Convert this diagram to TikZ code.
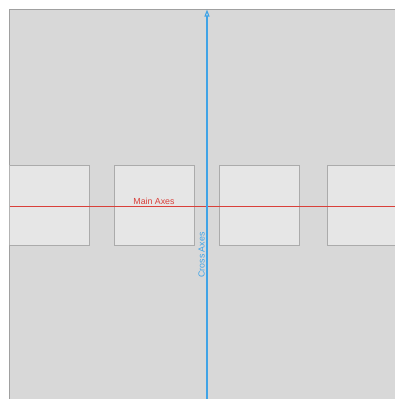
\documentclass[tikz,border=0pt]{standalone}
\usepackage{fontspec}
\setmainfont{Liberation Sans}
\usetikzlibrary{arrows.meta}
\definecolor{bgray}{HTML}{D8D8D8}
\definecolor{bframe}{HTML}{A0A0A0}
\definecolor{boxfill}{HTML}{E6E6E6}
\definecolor{boxline}{HTML}{ABABAB}
\definecolor{mainred}{HTML}{D9403A}
\definecolor{crossblue}{HTML}{3FA3E6}
\tikzset{
  item/.style={draw=boxline, fill=boxfill, line width=0.8pt, minimum width=80pt, minimum height=80pt, inner sep=0pt, anchor=north west},
  lbl/.style={font=\fontsize{8.8}{10}\selectfont, inner sep=0pt},
}
\begin{document}
\begin{tikzpicture}[x=1pt,y=-1pt]
\useasboundingbox (0,0) rectangle (395,399);
\fill[white] (0,0) rectangle (395,399);
\fill[bgray] (9,9) rectangle (395,399);
\draw[bframe, line width=1pt] (9,399) -- (9,9) -- (395,9);
\begin{scope}
\clip (9.5,9.5) rectangle (395,399);
\node[item] (b1) at (9,165) {};
\node[item] (b2) at (114,165) {};
\node[item] (b3) at (219,165) {};
\node[item] (b4) at (327,165) {};
\end{scope}
\coordinate (ml) at (9.5,206);
\coordinate (mr) at (395,206);
\draw[mainred, line width=1pt] (ml) -- (mr);
\node[lbl, text=mainred] (mlab) at (154,201) {Main Axes};
\coordinate (cb) at (207,399);
\coordinate (ct) at (207,9.5);
\draw[crossblue, line width=1.1pt, -{Triangle[open, length=7pt, width=5pt]}] (cb) -- (ct);
\node[lbl, text=crossblue, rotate=90] (clab) at (201.5,255) {Cross Axes};
\end{tikzpicture}
\end{document}
